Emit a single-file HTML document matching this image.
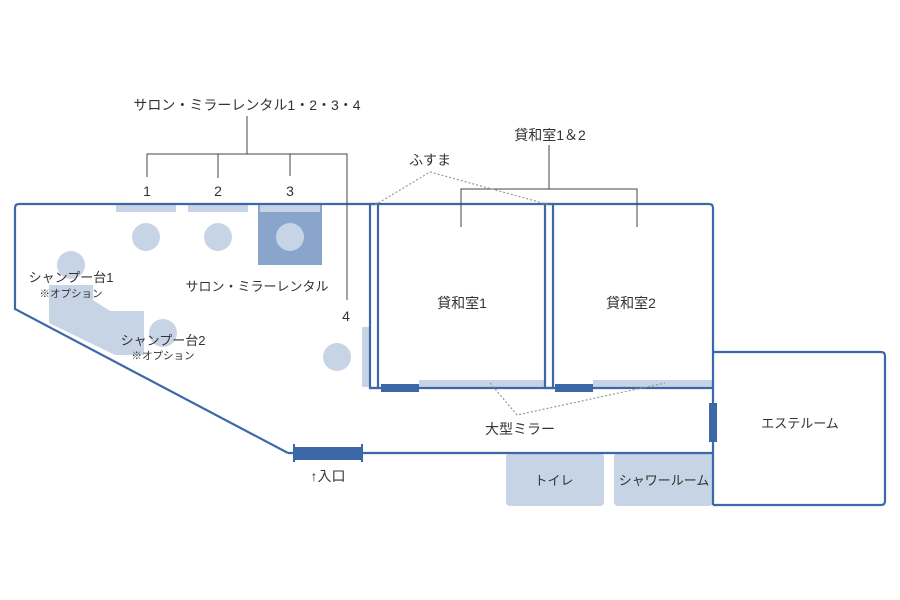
<!DOCTYPE html>
<html><head><meta charset="utf-8"><style>
html,body{margin:0;padding:0;background:#fff;}
svg{display:block;}
text{font-family:"Liberation Sans","Noto Sans CJK JP",sans-serif;fill:#333;}
</style></head><body>
<svg width="900" height="600" viewBox="0 0 900 600" xmlns="http://www.w3.org/2000/svg">
<!-- furniture -->
<g fill="#c7d4e6">
<rect x="116" y="204" width="60" height="8"/>
<rect x="188" y="204" width="60" height="8"/>
<rect x="362" y="327" width="8" height="60"/>
<rect x="419" y="380" width="126" height="8"/>
<rect x="593" y="380" width="120" height="8"/>
<polygon points="49,285 93,285 93,300 110,311 144,311 144,355 115,355 49,323"/>
<circle cx="146" cy="237" r="14"/>
<circle cx="218" cy="237" r="14"/>
<circle cx="71" cy="265" r="14"/>
<circle cx="163" cy="333" r="14"/>
<circle cx="337" cy="357" r="14"/>
<rect x="506" y="453" width="98" height="53" rx="4"/>
<rect x="614" y="453" width="99" height="53" rx="4"/>
</g>
<rect x="258" y="204" width="64" height="61" fill="#8aa5cb"/>
<rect x="260" y="204" width="60" height="8" fill="#c7d4e6"/>
<circle cx="290" cy="237" r="14" fill="#c7d4e6"/>
<!-- walls -->
<g fill="none" stroke="#3d68a8" stroke-width="2.2">
<path d="M288,453 L15,309 L15,208 Q15,204 19,204 L709,204 Q713,204 713,208 L713,505"/>
<line x1="288" y1="453" x2="713" y2="453"/>
<path d="M713,352 L881,352 Q885,352 885,356 L885,501 Q885,505 881,505 L713,505"/>
<rect x="370" y="204" width="8" height="184"/>
<rect x="545" y="204" width="8" height="184"/>
<line x1="370" y1="388" x2="713" y2="388"/>
</g>
<g fill="#3d68a8">
<rect x="381" y="384" width="38" height="8"/>
<rect x="555" y="384" width="38" height="8"/>
<rect x="709" y="403" width="8" height="39"/>
<rect x="294" y="447" width="68" height="13"/>
<rect x="293" y="444" width="2" height="18"/>
<rect x="361" y="444" width="2" height="18"/>
</g>
<!-- leaders -->
<g fill="none" stroke="#444" stroke-width="1">
<line x1="247" y1="116" x2="247" y2="154"/>
<polyline points="147,177 147,154 347,154 347,300"/>
<line x1="218" y1="154" x2="218" y2="178"/>
<line x1="290" y1="154" x2="290" y2="176"/>
<line x1="549" y1="145" x2="549" y2="189"/>
<polyline points="461,227 461,189 637,189 637,227"/>
</g>
<g fill="none" stroke="#999" stroke-width="1.2" stroke-dasharray="2,2">
<polyline points="375,205 430,172 550,205"/>
<polyline points="490,383 517,415 665,383"/>
</g>
<!-- labels -->
<g font-size="14">
<text x="247" y="110" text-anchor="middle">サロン・ミラーレンタル1・2・3・4</text>
<text x="147" y="196" text-anchor="middle">1</text>
<text x="218" y="196" text-anchor="middle">2</text>
<text x="290" y="196" text-anchor="middle">3</text>
<text x="346" y="321" text-anchor="middle">4</text>
<text x="550" y="140" text-anchor="middle">貸和室1＆2</text>
<text x="430" y="165" text-anchor="middle">ふすま</text>
<text x="462" y="308" text-anchor="middle">貸和室1</text>
<text x="631" y="308" text-anchor="middle">貸和室2</text>
<text x="520" y="434" text-anchor="middle">大型ミラー</text>
<text x="328" y="481" text-anchor="middle">↑入口</text>
</g>
<g font-size="13">
<text x="257" y="291" text-anchor="middle">サロン・ミラーレンタル</text>
<text x="800" y="428" text-anchor="middle">エステルーム</text>
<text x="554" y="485" text-anchor="middle">トイレ</text>
<text x="664" y="485" text-anchor="middle">シャワールーム</text>
<text x="71" y="282" text-anchor="middle">シャンプー台1</text>
<text x="163" y="345" text-anchor="middle">シャンプー台2</text>
</g>
<g font-size="10.5">
<text x="71" y="297" text-anchor="middle">※オプション</text>
<text x="163" y="359" text-anchor="middle">※オプション</text>
</g>
</svg>
</body></html>
